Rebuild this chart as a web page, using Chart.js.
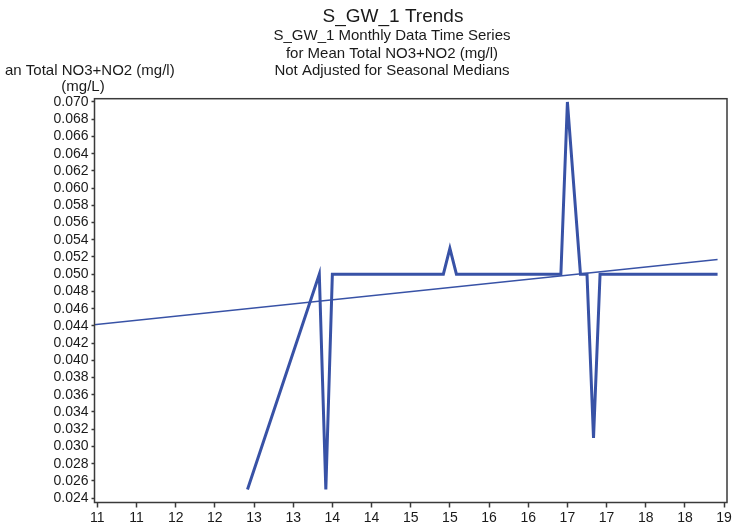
<!DOCTYPE html>
<html>
<head>
<meta charset="utf-8">
<script src="https://cdn.jsdelivr.net/npm/chart.js@4.4.1/dist/chart.umd.min.js"></script>
<style>
    html, body { margin: 0; padding: 0; background: #fff; }
    #wrap { width: 734px; height: 527px; position: relative; }
</style>
</head>
<body>
<div id="wrap"><canvas id="chartTrend"></canvas></div>
<script>
// ===== DATOS =====
const obsDates = ["2012-12", "2013-11", "2013-12", "2014-01", "2015-06", "2015-07", "2015-08",
                  "2016-12", "2017-01", "2017-03", "2017-04", "2017-05", "2017-06", "2018-12"];
const obsValues = [0.025, 0.050, 0.025, 0.050, 0.050, 0.053, 0.050,
                   0.050, 0.070, 0.050, 0.050, 0.031, 0.050, 0.050];

// linea de tendencia (extremos)
const trendDates = ["2010-12", "2018-12"];
const trendValues = [0.0441, 0.0517];

const xTicks = [2011, 2011.5, 2012, 2012.5, 2013, 2013.5, 2014, 2014.5, 2015,
                2015.5, 2016, 2016.5, 2017, 2017.5, 2018, 2018.5, 2019];
const xTickLabels = ["11", "11", "12", "12", "13", "13", "14", "14", "15",
                     "15", "16", "16", "17", "17", "18", "18", "19"];
const yTicks = [0.024, 0.026, 0.028, 0.030, 0.032, 0.034, 0.036, 0.038, 0.040, 0.042, 0.044, 0.046,
                0.048, 0.050, 0.052, 0.054, 0.056, 0.058, 0.060, 0.062, 0.064, 0.066, 0.068, 0.070];
const yTickLabels = yTicks.map(v => v.toFixed(3));

const titleLines = ["S_GW_1 Trends"];
const subtitleLines = ["S_GW_1 Monthly Data Time Series", "for Mean Total NO3+NO2 (mg/l)", "Not Adjusted for Seasonal Medians"];
const yTitleLines = ["an Total NO3+NO2 (mg/l)", "(mg/L)"];

// ===== ESTILO =====
const lineColor = "#3852a6";
const axisColor = "#3a3a3a";
const textColor = "#1a1a1a";
const fontFamily = "'Liberation Sans', Arial, sans-serif";

// "2013-11" -> 2013.833
function toYear(d) {
    const [y, m] = d.split("-").map(Number);
    return y + (m - 1) / 12;
}

const obsPoints = obsDates.map((d, i) => ({ x: toYear(d), y: obsValues[i] }));
const trendPoints = trendDates.map((d, i) => ({ x: toYear(d), y: trendValues[i] }));

// Textos y marco del grafico
const decorPlugin = {
    id: "decor",
    afterDraw(chart) {
        const ctx = chart.ctx;
        const a = chart.chartArea;
        ctx.save();
        ctx.strokeStyle = axisColor;
        ctx.lineWidth = 1.5;
        ctx.strokeRect(a.left, a.top, a.right - a.left, a.bottom - a.top);

        ctx.fillStyle = textColor;
        ctx.textBaseline = "middle";
        ctx.textAlign = "center";
        ctx.font = "19px " + fontFamily;
        ctx.fillText(titleLines[0], 393, 17);
        ctx.font = "15px " + fontFamily;
        subtitleLines.forEach((t, i) => ctx.fillText(t, 392, 36 + i * 17.5));

        ctx.textAlign = "left";
        ctx.fillText(yTitleLines[0], 5, 71);
        ctx.textAlign = "center";
        ctx.fillText(yTitleLines[1], 83, 87);
        ctx.restore();
    }
};

new Chart(document.getElementById("chartTrend"), {
    type: "line",
    data: {
        datasets: [{
            label: "Observado",
            data: obsPoints,
            borderColor: lineColor,
            borderWidth: 3,
            pointRadius: 0,
            tension: 0
        }, {
            label: "Tendencia",
            data: trendPoints,
            borderColor: lineColor,
            borderWidth: 1.5,
            pointRadius: 0,
            tension: 0
        }]
    },
    options: {
        responsive: true,
        maintainAspectRatio: false,
        animation: false,
        layout: {
            padding: { top: 98.7, right: 7, left: 0, bottom: 0 }
        },
        plugins: {
            legend: { display: false },
            title: { display: false },
            tooltip: { enabled: false }
        },
        scales: {
            x: {
                type: "linear",
                min: 2010.964,
                max: 2019.037,
                border: { display: false },
                grid: {
                    drawOnChartArea: false,
                    drawTicks: true,
                    tickLength: 5,
                    tickColor: axisColor,
                    tickWidth: 1.5
                },
                afterBuildTicks: (scale) => {
                    scale.ticks = xTicks.map(v => ({ value: v }));
                },
                afterFit: (scale) => { scale.height = 24.5; },
                ticks: {
                    autoSkip: false,
                    maxRotation: 0,
                    padding: 2,
                    color: textColor,
                    font: { family: fontFamily, size: 14 },
                    callback: (v, i) => xTickLabels[i]
                }
            },
            y: {
                min: 0.02349,
                max: 0.07038,
                border: { display: false },
                grid: {
                    drawOnChartArea: false,
                    drawTicks: true,
                    tickLength: 3,
                    tickColor: axisColor,
                    tickWidth: 1.5
                },
                afterBuildTicks: (scale) => {
                    scale.ticks = yTicks.map(v => ({ value: v }));
                },
                afterFit: (scale) => { scale.width = 94.5; },
                ticks: {
                    autoSkip: false,
                    padding: 3,
                    color: textColor,
                    font: { family: fontFamily, size: 14 },
                    callback: (v, i) => yTickLabels[i]
                }
            }
        }
    },
    plugins: [decorPlugin]
});
</script>
</body>
</html>
